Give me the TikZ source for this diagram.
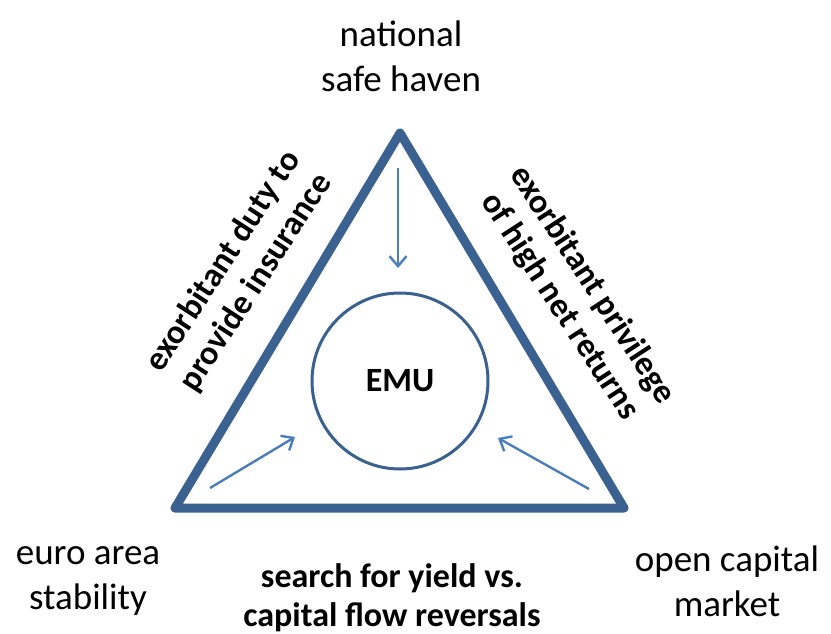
\documentclass[tikz,border=0pt]{standalone}
\usepackage{fontspec}
\setmainfont{Carlito}
\usetikzlibrary{arrows.meta}
\definecolor{triblue}{HTML}{3A6190}
\definecolor{arrblue}{HTML}{4A7EBB}
\begin{document}
\begin{tikzpicture}[x=1pt,y=-1pt,
  tri/.style={draw=triblue,line width=9pt,line join=round},
  ring/.style={circle,draw=triblue,line width=3pt,minimum size=176pt,inner sep=0pt,font=\fontsize{34}{40}\selectfont\bfseries},
  flow/.style={draw=arrblue,line width=2.4pt,-{Straight Barb[length=10pt,width=17pt,line width=2.4pt]}},
  corner/.style={align=center,inner sep=0pt,font=\fontsize{37}{45}\selectfont},
  side/.style={align=center,inner sep=0pt,font=\fontsize{34}{39}\selectfont\bfseries}]
\useasboundingbox (0,0) rectangle (831,634);
\coordinate (A) at (400,133);
\coordinate (B) at (175,508);
\coordinate (C) at (624,508);
\draw[tri] (A) -- (B) -- (C) -- cycle;
\node[ring] (emu) at (400,381) {EMU};
\coordinate (t0) at (398,168);
\coordinate (t1) at (398,268);
\coordinate (l0) at (210,488);
\coordinate (l1) at (295,437);
\coordinate (r0) at (589,489);
\coordinate (r1) at (498,438);
\draw[flow] (t0) -- (t1);
\draw[flow] (l0) -- (l1);
\draw[flow] (r0) -- (r1);
\node[corner] (nat) at (401,56) {national\\safe haven};
\node[corner] (euro) at (88,581) {euro area\\stability};
\node[corner] (open) at (727,581) {open capital\\market};
\node[side] (bot) at (392,598) {search for yield vs.\\capital flow reversals};
\node[side,rotate=57] (left) at (240,272) {exorbitant duty to\\provide insurance};
\node[side,rotate=-57] (right) at (576,296) {exorbitant privilege\\of high net returns};
\end{tikzpicture}
\end{document}
